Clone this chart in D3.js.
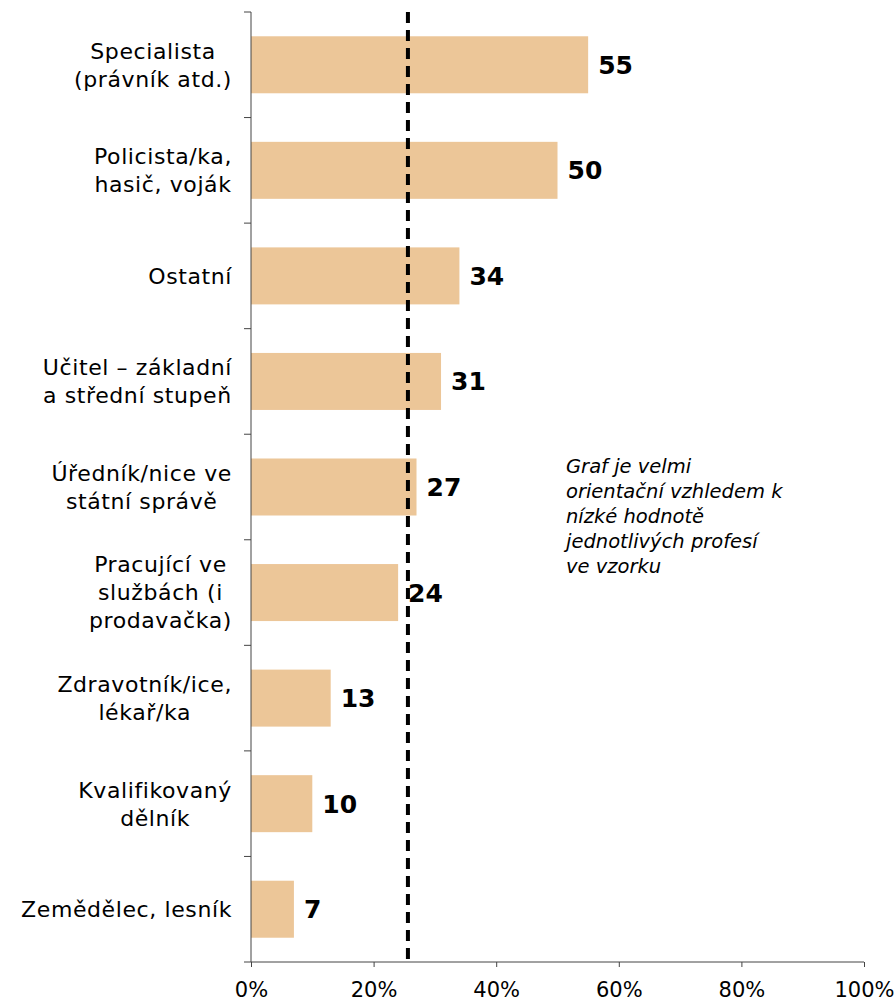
<!DOCTYPE html>
<html>
<head>
<meta charset="utf-8">
<script src="https://cdn.jsdelivr.net/npm/d3@7"></script>
<style>
  body { margin: 0; background: #fff; }
  text { font-family: "DejaVu Sans", Verdana, sans-serif; }
</style>
</head>
<body>
<script>
// Data
const categories = [
  ["Specialista", "(právník atd.)"],
  ["Policista/ka,", "hasič, voják"],
  ["Ostatní"],
  ["Učitel – základní", "a střední stupeň"],
  ["Úředník/nice ve", "státní správě"],
  ["Pracující ve", "službách (i", "prodavačka)"],
  ["Zdravotník/ice,", "lékař/ka"],
  ["Kvalifikovaný", "dělník"],
  ["Zemědělec, lesník"]
];
const values = [55, 50, 34, 31, 27, 24, 13, 10, 7];
const xTicks = [0, 20, 40, 60, 80, 100];
const referenceLine = 25.6;
const noteLines = ["Graf je velmi", "orientační vzhledem k", "nízké hodnotě", "jednotlivých profesí", "ve vzorku"];

// Dimensions
const width = 895, height = 1003;
const plotLeft = 251, plotRight = 864, plotTop = 12, plotBottom = 962;
const pad = 0.46;

const data = categories.map((c, i) => ({ id: i, label: c, value: values[i] }));

// Scales
const xScale = d3.scaleLinear().domain([0, 100]).range([plotLeft, plotRight]);
const yScale = d3.scaleBand()
  .domain(data.map(d => d.id))
  .range([plotTop, plotBottom])
  .paddingInner(pad)
  .paddingOuter(pad / 2);
const step = yScale.step();

const svg = d3.select("body").append("svg")
  .attr("width", width)
  .attr("height", height);

// Bars
svg.selectAll("rect.bar")
  .data(data)
  .enter()
  .append("rect")
  .attr("class", "bar")
  .attr("x", xScale(0))
  .attr("y", d => yScale(d.id))
  .attr("width", d => xScale(d.value) - xScale(0))
  .attr("height", yScale.bandwidth())
  .attr("fill", "#ecc698");

// Value labels
svg.selectAll("text.val")
  .data(data)
  .enter()
  .append("text")
  .attr("class", "val")
  .attr("x", d => xScale(d.value) + 10)
  .attr("y", d => yScale(d.id) + yScale.bandwidth() / 2)
  .attr("dy", "0.36em")
  .attr("font-size", 25)
  .attr("font-weight", "bold")
  .attr("fill", "#000")
  .text(d => d.value);

// Y axis line + ticks at band boundaries
svg.append("line")
  .attr("x1", plotLeft).attr("x2", plotLeft)
  .attr("y1", plotTop).attr("y2", plotBottom)
  .attr("stroke", "#444").attr("stroke-width", 1);

const boundaries = d3.range(data.length + 1).map(i => plotTop + i * step);
svg.selectAll("line.ytick")
  .data(boundaries)
  .enter()
  .append("line")
  .attr("class", "ytick")
  .attr("x1", plotLeft - 7).attr("x2", plotLeft)
  .attr("y1", d => d).attr("y2", d => d)
  .attr("stroke", "#444");

// Category labels: lines centred on each other, block right-aligned
const lineH = 28;
const labelRight = plotLeft - 19;
const labels = svg.selectAll("text.cat")
  .data(data)
  .enter()
  .append("text")
  .attr("class", "cat")
  .attr("text-anchor", "middle")
  .attr("font-size", 22)
  .attr("letter-spacing", 0.6)
  .attr("fill", "#000");
labels.each(function(d) {
  const n = d.label.length;
  const cy = yScale(d.id) + yScale.bandwidth() / 2;
  const spans = d3.select(this).selectAll("tspan")
    .data(d.label)
    .enter()
    .append("tspan")
    .attr("y", (s, i) => cy + (i - (n - 1) / 2) * lineH)
    .attr("dy", "0.36em")
    .text(s => s);
  let maxW = 0;
  spans.each(function() { maxW = Math.max(maxW, this.getComputedTextLength()); });
  spans.attr("x", labelRight - maxW / 2);
});

// X axis
const bottomAxis = d3.axisBottom(xScale)
  .tickValues(xTicks)
  .tickSize(5)
  .tickFormat(d => d + "%");
const gx = svg.append("g")
  .attr("transform", "translate(0," + plotBottom + ")")
  .call(bottomAxis);
gx.select(".domain").attr("stroke", "#444").attr("d", "M" + plotLeft + ",0H" + plotRight);
gx.selectAll(".tick line").attr("stroke", "#444");
gx.selectAll(".tick text")
  .attr("font-size", 21)
  .attr("fill", "#000")
  .attr("font-family", "DejaVu Sans, Verdana, sans-serif")
  .attr("y", 35)
  .attr("dy", 0);

// Reference dashed line
svg.append("line")
  .attr("x1", xScale(referenceLine)).attr("x2", xScale(referenceLine))
  .attr("y1", plotTop).attr("y2", plotBottom)
  .attr("stroke", "#000")
  .attr("stroke-width", 4)
  .attr("stroke-dasharray", "11,7");

// Note
svg.append("text")
  .attr("font-size", 19.5)
  .attr("font-style", "italic")
  .attr("fill", "#000")
  .selectAll("tspan")
  .data(noteLines)
  .enter()
  .append("tspan")
  .attr("x", 566)
  .attr("y", (d, i) => 473 + i * 25)
  .text(d => d);
</script>
</body>
</html>
